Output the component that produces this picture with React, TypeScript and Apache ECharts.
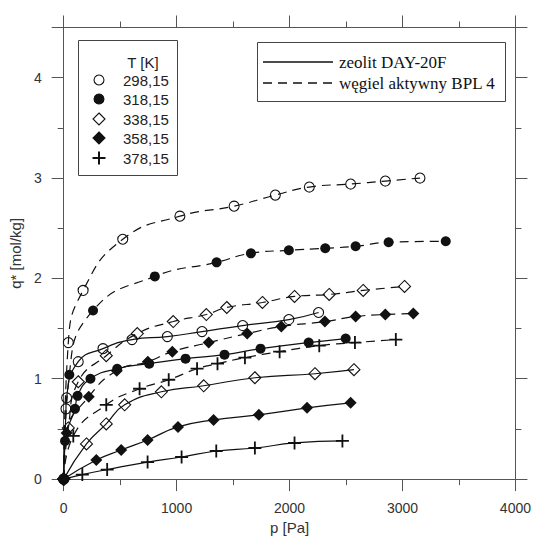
import React, { useEffect, useRef } from "react";
import * as echarts from "echarts";

// p [Pa] and q* [mol/kg] — zeolit DAY-20F (solid)
const zP298 = [0, 20, 26, 129, 348, 605, 918, 1225, 1585, 1994, 2257];
const zQ298 = [0, 0.7, 0.81, 1.17, 1.3, 1.39, 1.42, 1.47, 1.53, 1.59, 1.66];
const zP318 = [0, 12, 100, 123, 237, 474, 757, 1079, 1424, 1743, 2169, 2497];
const zQ318 = [0, 0.38, 0.7, 0.83, 1.0, 1.1, 1.15, 1.2, 1.24, 1.3, 1.36, 1.4];
const zP338 = [0, 202, 377, 540, 865, 1240, 1693, 2225, 2570];
const zQ338 = [0, 0.35, 0.55, 0.74, 0.87, 0.93, 1.01, 1.05, 1.09];
const zP358 = [0, 289, 509, 743, 1012, 1327, 1728, 2155, 2541];
const zQ358 = [0, 0.19, 0.29, 0.39, 0.52, 0.59, 0.64, 0.71, 0.76];
const zP378 = [0, 165, 385, 743, 1044, 1351, 1693, 2044, 2468];
const zQ378 = [0, 0.045, 0.095, 0.17, 0.22, 0.28, 0.31, 0.36, 0.38];

// węgiel aktywny BPL 4 (dashed)
const bP298 = [0, 41, 172, 523, 1029, 1509, 1874, 2175, 2541, 2848, 3155];
const bQ298 = [0, 1.36, 1.88, 2.39, 2.62, 2.72, 2.83, 2.91, 2.94, 2.97, 3.0];
const bP318 = [0, 50, 260, 807, 1354, 1658, 1994, 2316, 2585, 2877, 3383];
const bQ318 = [0, 1.04, 1.68, 2.02, 2.16, 2.25, 2.28, 2.3, 2.32, 2.36, 2.37];
const bP338 = [0, 41, 129, 377, 652, 970, 1263, 1444, 1760, 2044, 2351, 2652, 3018];
const bQ338 = [0, 0.51, 0.97, 1.23, 1.45, 1.57, 1.64, 1.71, 1.76, 1.82, 1.84, 1.88, 1.92];
const bP358 = [0, 26, 222, 470, 745, 962, 1284, 1625, 1927, 2313, 2585, 2848, 3096];
const bQ358 = [0, 0.46, 0.82, 1.08, 1.17, 1.27, 1.36, 1.45, 1.52, 1.57, 1.62, 1.64, 1.65];
const bP378 = [0, 85, 377, 672, 930, 1181, 1362, 1605, 1912, 2263, 2579, 2941];
const bQ378 = [0, 0.43, 0.74, 0.9, 0.99, 1.1, 1.15, 1.21, 1.27, 1.33, 1.36, 1.39];

const temps = ["298,15", "318,15", "338,15", "358,15", "378,15"];
const materialNames = ["zeolit DAY-20F", "węgiel aktywny BPL 4"];

const INK = "#111";
const PLUS =
  "path://M-0.14,-1 L0.14,-1 L0.14,-0.14 L1,-0.14 L1,0.14 L0.14,0.14 L0.14,1 L-0.14,1 L-0.14,0.14 L-1,0.14 L-1,-0.14 L-0.14,-0.14 Z";

const markers = [
  { symbol: "circle", size: 10, fill: "transparent" },
  { symbol: "circle", size: 10, fill: INK },
  { symbol: "diamond", size: 12, fill: "transparent" },
  { symbol: "diamond", size: 12, fill: INK },
  { symbol: PLUS, size: 13, fill: INK },
];

const zip = (p: number[], q: number[]) => p.map((v, i) => [v, q[i]]);

export default function App() {
  const ref = useRef<HTMLDivElement>(null);
  useEffect(() => {
    if (!ref.current) return;
    const chart = echarts.init(ref.current, undefined, { renderer: "svg" });
    const zSets = [
      zip(zP298, zQ298),
      zip(zP318, zQ318),
      zip(zP338, zQ338),
      zip(zP358, zQ358),
      zip(zP378, zQ378),
    ];
    const bSets = [
      zip(bP298, bQ298),
      zip(bP318, bQ318),
      zip(bP338, bQ338),
      zip(bP358, bQ358),
      zip(bP378, bQ378),
    ];
    const mk = (data: number[][], i: number, dashed: boolean) => {
      const m = markers[i];
      return {
        type: "line",
        name: (dashed ? materialNames[1] : materialNames[0]) + " " + temps[i],
        data,
        smooth: 0.5,
        symbol: m.symbol,
        symbolSize: m.size,
        showAllSymbol: true,
        lineStyle: { color: INK, width: 1.2, type: dashed ? [9, 6] : "solid" },
        itemStyle: {
          color: m.fill,
          borderColor: INK,
          borderWidth: m.fill === "transparent" ? 1.1 : 0,
        },
        z: 3,
      };
    };
    const series: any[] = [];
    bSets.forEach((d, i) => series.push(mk(d, i, true)));
    zSets.forEach((d, i) => series.push(mk(d, i, false)));

    const axisLine = { show: true, onZero: false, lineStyle: { color: "#555", width: 1 } };
    const labelStyle = { color: "#333", fontSize: 14, fontFamily: "Liberation Sans, Arial, sans-serif" };

    // legend graphics
    const legendRows = [80, 99, 119, 138, 158];
    const lg: any[] = [
      {
        type: "rect",
        shape: { x: 78.5, y: 40.5, width: 99, height: 135 },
        style: { fill: "#fff", stroke: "#444", lineWidth: 1 },
        z: 10,
      },
      {
        type: "text",
        x: 143,
        y: 62,
        style: { text: "T [K]", fill: "#222", font: "15px 'Liberation Sans', Arial, sans-serif", align: "center", verticalAlign: "middle" },
        z: 11,
      },
    ];
    legendRows.forEach((y, i) => {
      const sx = 99;
      if (i < 2) {
        lg.push({
          type: "circle",
          shape: { cx: sx, cy: y, r: 5 },
          style: { fill: i === 0 ? "#fff" : INK, stroke: INK, lineWidth: 1.1 },
          z: 11,
        });
      } else if (i < 4) {
        lg.push({
          type: "polygon",
          shape: { points: [[sx, y - 6], [sx + 6, y], [sx, y + 6], [sx - 6, y]] },
          style: { fill: i === 2 ? "#fff" : INK, stroke: INK, lineWidth: 1.1 },
          z: 11,
        });
      } else {
        lg.push({ type: "line", shape: { x1: sx - 6.5, y1: y, x2: sx + 6.5, y2: y }, style: { stroke: INK, lineWidth: 2 }, z: 11 });
        lg.push({ type: "line", shape: { x1: sx, y1: y - 6.5, x2: sx, y2: y + 6.5 }, style: { stroke: INK, lineWidth: 2 }, z: 11 });
      }
      lg.push({
        type: "text",
        x: 123,
        y,
        style: { text: temps[i], fill: "#222", font: "15px 'Liberation Sans', Arial, sans-serif", align: "left", verticalAlign: "middle" },
        z: 11,
      });
    });
    lg.push(
      {
        type: "rect",
        shape: { x: 257.5, y: 42.5, width: 248, height: 59 },
        style: { fill: "#fff", stroke: "#444", lineWidth: 1 },
        z: 10,
      },
      { type: "line", shape: { x1: 263, y1: 62, x2: 333, y2: 62 }, style: { stroke: INK, lineWidth: 1.3 }, z: 11 },
      { type: "line", shape: { x1: 263, y1: 83, x2: 333, y2: 83 }, style: { stroke: INK, lineWidth: 1.3, lineDash: [9, 6] }, z: 11 },
      {
        type: "text",
        x: 339,
        y: 62,
        style: { text: materialNames[0], fill: "#111", font: "17px 'Liberation Serif', 'Times New Roman', serif", align: "left", verticalAlign: "middle" },
        z: 11,
      },
      {
        type: "text",
        x: 339,
        y: 83,
        style: { text: materialNames[1], fill: "#111", font: "17px 'Liberation Serif', 'Times New Roman', serif", align: "left", verticalAlign: "middle" },
        z: 11,
      }
    );

    chart.setOption({
      animation: false,
      backgroundColor: "#fff",
      grid: { left: 62, right: 16, top: 27.5, bottom: 58, containLabel: false },
      xAxis: [
        {
          type: "value",
          min: 0,
          max: 4000,
          interval: 1000,
          position: "bottom",
          name: "p [Pa]",
          nameLocation: "middle",
          nameGap: 40,
          nameTextStyle: { ...labelStyle, fontSize: 15 },
          axisLine,
          axisTick: { show: true, inside: false, length: 12, lineStyle: { color: "#555" } },
          minorTick: { show: true, splitNumber: 2, length: 6, lineStyle: { color: "#555" } },
          axisLabel: { ...labelStyle, margin: 22, formatter: (v: number) => String(v) },
          splitLine: { show: false },
        },
        {
          type: "value",
          min: 0,
          max: 4000,
          interval: 1000,
          position: "top",
          axisLine,
          axisTick: { show: true, inside: false, length: 12, lineStyle: { color: "#555" } },
          minorTick: { show: true, splitNumber: 2, length: 6, lineStyle: { color: "#555" } },
          axisLabel: { show: false },
          splitLine: { show: false },
        },
      ],
      yAxis: [
        {
          type: "value",
          min: 0,
          max: 4.5,
          interval: 1,
          position: "left",
          name: "q* [mol/kg]",
          nameLocation: "middle",
          nameGap: 32,
          nameTextStyle: { ...labelStyle, fontSize: 15 },
          axisLine,
          axisTick: { show: true, inside: false, length: 12, lineStyle: { color: "#555" } },
          minorTick: { show: true, splitNumber: 2, length: 6, lineStyle: { color: "#555" } },
          axisLabel: {
            ...labelStyle,
            margin: 22,
            formatter: (v: number) => (Number.isInteger(v) ? String(v) : ""),
          },
          splitLine: { show: false },
        },
        {
          type: "value",
          min: 0,
          max: 4.5,
          interval: 1,
          position: "right",
          axisLine,
          axisTick: { show: true, inside: false, length: 12, lineStyle: { color: "#555" } },
          minorTick: { show: true, splitNumber: 2, length: 6, lineStyle: { color: "#555" } },
          axisLabel: { show: false },
          splitLine: { show: false },
        },
      ],
      series,
      graphic: lg,
    });
    return () => chart.dispose();
  }, []);
  return <div ref={ref} style={{ position: "fixed", left: 0, top: 0, width: 534, height: 540 }} />;
}
